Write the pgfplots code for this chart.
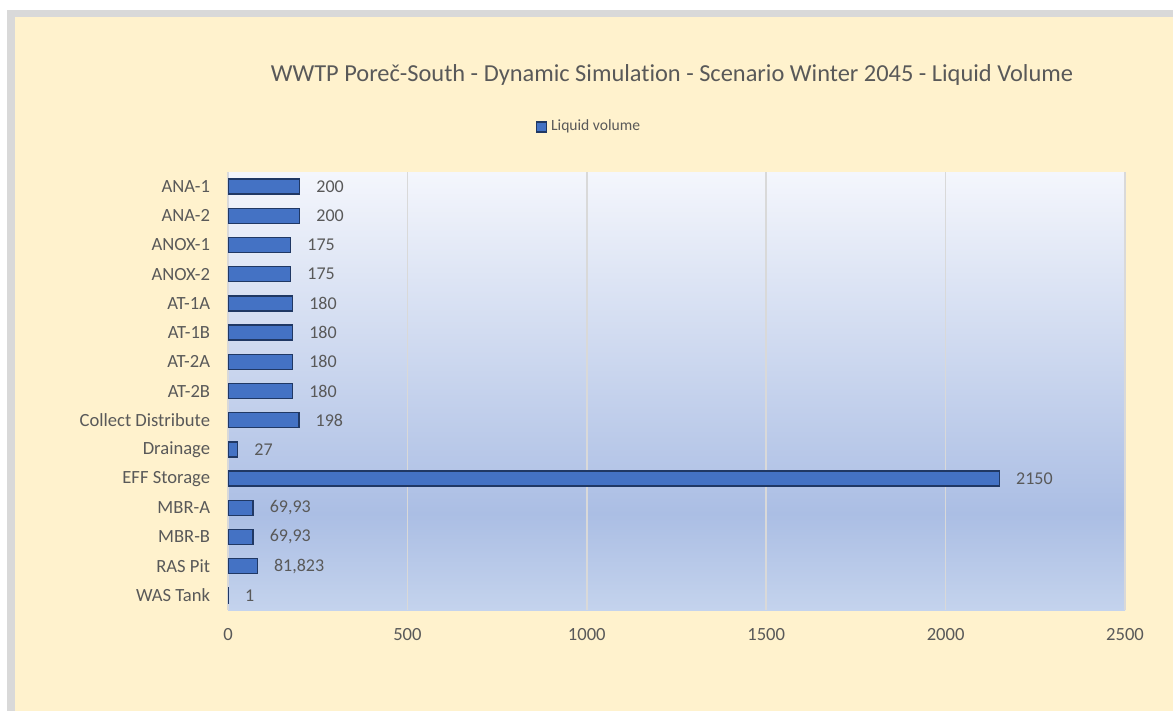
\documentclass[border=0pt]{standalone}
\usepackage{pgfplots}
\usepackage{pgfplotstable}
\pgfplotsset{compat=1.18}
\usepackage{fontspec}
\setmainfont{Carlito}[Ligatures=NoCommon]
\definecolor{bgtop}{RGB}{244,246,252}
\definecolor{bgmid}{RGB}{171,190,228}
\definecolor{bgbot}{RGB}{196,211,237}
\definecolor{cream}{RGB}{255,242,205}
\definecolor{framec}{RGB}{217,217,217}
\definecolor{txt}{RGB}{89,89,89}
\definecolor{barfill}{RGB}{68,114,196}
\definecolor{barline}{RGB}{32,56,100}
\definecolor{gridc}{RGB}{217,217,217}
\pgfdeclareverticalshading{plotbg}{100bp}{color(0bp)=(bgbot); color(25bp)=(bgbot); color(36bp)=(bgmid); color(75bp)=(bgtop); color(100bp)=(bgtop)}

\pgfplotstableread{
y x label
0 200 200
1 200 200
2 175 175
3 175 175
4 180 180
5 180 180
6 180 180
7 180 180
8 198 198
9 27 27
10 2150 2150
11 69.93 69,93
12 69.93 69,93
13 81.823 81,823
14 1 1
}\vol

\begin{document}
\begin{tikzpicture}
\useasboundingbox (0,0) rectangle (586.5pt,-355.5pt);
\fill[white] (0,0) rectangle (586.5pt,-355.5pt);
\fill[framec] (3.5pt,-5pt) rectangle (600pt,-370pt);
\fill[cream] (7.5pt,-8.5pt) rectangle (600pt,-370pt);
\node[anchor=base, text=txt, font=\fontsize{12.2}{14}\selectfont, inner sep=0pt] at (336pt,-41pt) {WWTP Poreč-South - Dynamic Simulation - Scenario Winter 2045 - Liquid Volume};
\begin{axis}[
  at={(114pt,-86pt)}, anchor=north west,
  scale only axis, width=448.5pt, height=219pt,
  xbar, bar width=7.5pt,
  xmin=0, xmax=2500, xtick={0,500,...,2500},
  ymin=-0.5, ymax=14.5, y dir=reverse,
  ytick={0,...,14},
  yticklabels={ANA-1,ANA-2,ANOX-1,ANOX-2,AT-1A,AT-1B,AT-2A,AT-2B,Collect Distribute,Drainage,EFF Storage,MBR-A,MBR-B,RAS Pit,WAS Tank},
  axis line style={draw=none},
  tick style={draw=none},
  xmajorgrids, grid style={gridc, line width=0.75pt},
  axis background/.style={shading=plotbg},
  /pgf/number format/assume math mode=true,
  /pgf/number format/1000 sep={},
  xticklabel style={anchor=north, inner sep=0pt, yshift=-9pt, text=txt, font=\fontsize{9.3}{11}\selectfont},
  yticklabel style={anchor=east, inner sep=0pt, xshift=-4.5pt, text=txt, font=\fontsize{9.3}{11}\selectfont},
  nodes near coords,
  point meta=explicit symbolic,
  nodes near coords style={anchor=west, inner sep=0pt, xshift=8pt, text=txt, font=\fontsize{9}{11}\selectfont},
  legend style={at={(0.4036,1.1027)}, anchor=center, draw=none, fill=none, font=\fontsize{7.8}{9}\selectfont, text=txt},
  legend image code/.code={\draw[fill=barfill, draw=barline, line width=0.6pt] (0pt,-2.5pt) rectangle (5pt,2.5pt);},
]
\addplot[fill=barfill, draw=barline, line width=0.7pt] table[x=x, y=y, meta=label] {\vol};
\addlegendentry{Liquid volume}
\end{axis}
\end{tikzpicture}
\end{document}
